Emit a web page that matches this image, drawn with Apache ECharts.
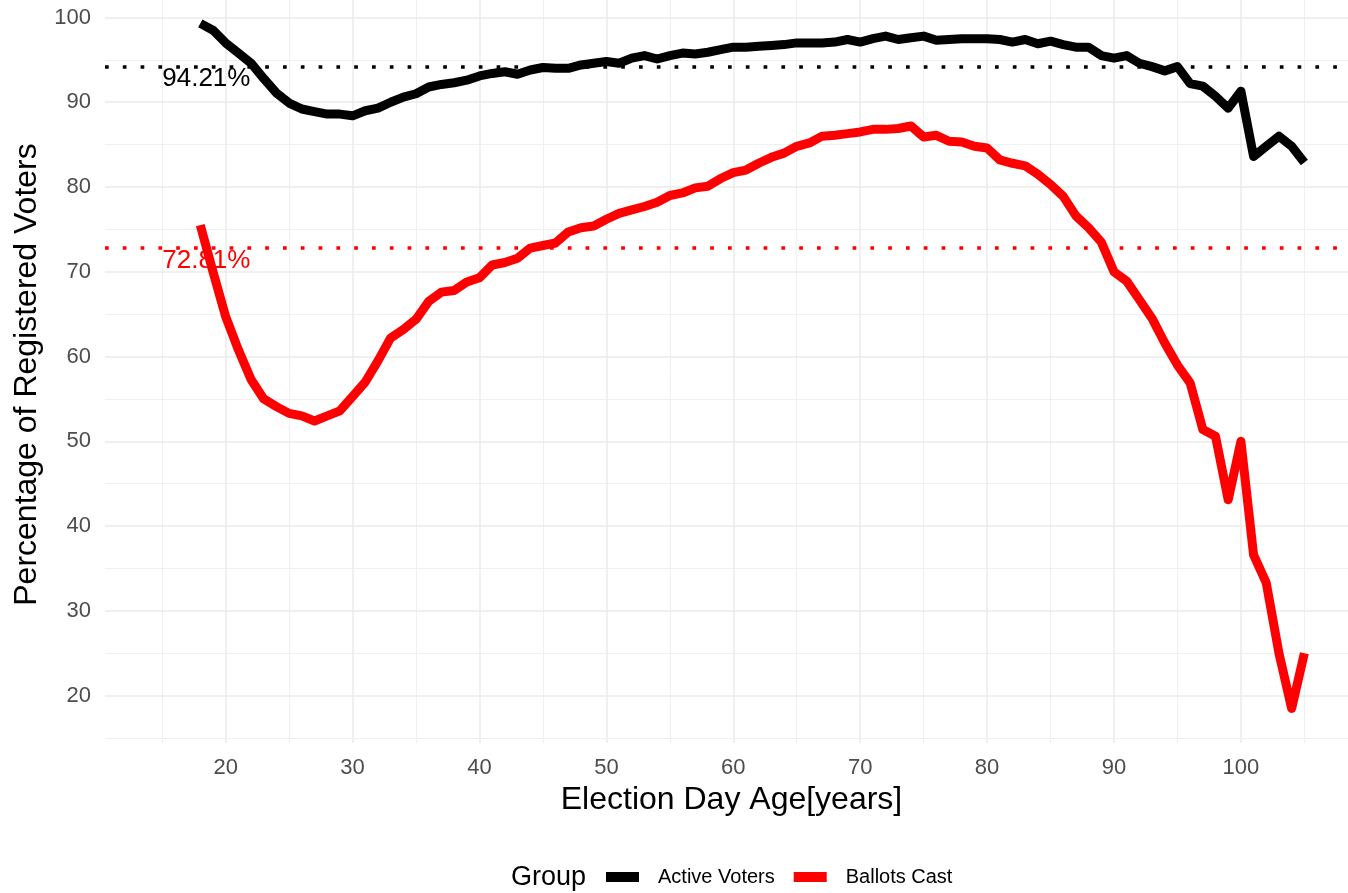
<!DOCTYPE html>
<html>
<head>
<meta charset="utf-8">
<script src="https://cdn.jsdelivr.net/npm/echarts@6/dist/echarts.min.js"></script>
<style>
  html, body { margin: 0; padding: 0; background: #fff; }
  #main { width: 1348px; height: 893px; }
</style>
</head>
<body>
<div id="main"></div>
<script>
  // ages on the x axis
  var ages = [18, 19, 20, 21, 22, 23, 24, 25, 26, 27, 28, 29, 30, 31, 32, 33, 34, 35, 36, 37, 38, 39,
    40, 41, 42, 43, 44, 45, 46, 47, 48, 49, 50, 51, 52, 53, 54, 55, 56, 57, 58, 59,
    60, 61, 62, 63, 64, 65, 66, 67, 68, 69, 70, 71, 72, 73, 74, 75, 76, 77, 78, 79,
    80, 81, 82, 83, 84, 85, 86, 87, 88, 89, 90, 91, 92, 93, 94, 95, 96, 97, 98, 99,
    100, 101, 102, 103, 104, 105];

  var activeVoters = [99.3, 98.5, 97.0, 95.8, 94.6, 92.8, 91.1, 89.9, 89.2, 88.9, 88.6, 88.6, 88.4, 89.0, 89.3, 90.0, 90.6, 91.0, 91.8, 92.1, 92.3, 92.6,
    93.1, 93.4, 93.6, 93.3, 93.8, 94.1, 94.0, 94.0, 94.4, 94.6, 94.8, 94.6, 95.2, 95.5, 95.1, 95.5, 95.8, 95.7, 95.9, 96.2,
    96.5, 96.5, 96.6, 96.7, 96.8, 97.0, 97.0, 97.0, 97.1, 97.4, 97.1, 97.5, 97.8, 97.4, 97.6, 97.8, 97.3, 97.4, 97.5, 97.5,
    97.5, 97.4, 97.1, 97.4, 96.9, 97.2, 96.8, 96.5, 96.5, 95.5, 95.2, 95.5, 94.6, 94.2, 93.7, 94.2, 92.2, 91.9, 90.7, 89.3,
    91.3, 83.6, 84.8, 86.0, 84.8, 82.9];

  var ballotsCast = [75.5, 70.0, 64.7, 60.8, 57.3, 55.0, 54.1, 53.3, 53.0, 52.4, 53.0, 53.6, 55.3, 57.0, 59.5, 62.2, 63.2, 64.4, 66.5, 67.6, 67.8, 68.8,
    69.3, 70.8, 71.1, 71.6, 72.8, 73.1, 73.4, 74.7, 75.2, 75.4, 76.2, 76.9, 77.3, 77.7, 78.2, 79.0, 79.3, 79.9, 80.1, 81.0,
    81.7, 82.0, 82.8, 83.5, 84.0, 84.8, 85.2, 86.0, 86.1, 86.3, 86.5, 86.8, 86.8, 86.9, 87.2, 85.9, 86.1, 85.4, 85.3, 84.8,
    84.6, 83.2, 82.8, 82.5, 81.5, 80.3, 78.9, 76.6, 75.2, 73.5, 70.0, 68.9, 66.7, 64.5, 61.6, 59.0, 56.9, 51.4, 50.6, 43.1,
    50.0, 36.6, 33.3, 25.0, 18.5, 25.0];

  var avgActive = 94.21;
  var avgBallots = 72.81;
  var labelAge = 15;

  var xBreaks = [20, 30, 40, 50, 60, 70, 80, 90, 100];
  var xMinor = [15, 25, 35, 45, 55, 65, 75, 85, 95, 105];
  var yBreaks = [20, 30, 40, 50, 60, 70, 80, 90, 100];
  var yMinor = [15, 25, 35, 45, 55, 65, 75, 85, 95];

  var font = "'Liberation Sans', Arial, sans-serif";

  var myChart = echarts.init(document.getElementById('main'));

  function pairs(vals) {
    return ages.map(function (a, i) { return [a, vals[i]]; });
  }

  // grid lines like theme_minimal
  var minorStyle = { color: '#f0f0f0', width: 1, type: 'solid' };
  var majorStyle = { color: '#ebebeb', width: 1.5, type: 'solid' };
  var gridLines = [];
  xMinor.forEach(function (v) { gridLines.push({ xAxis: v, lineStyle: minorStyle }); });
  yMinor.forEach(function (v) { gridLines.push({ yAxis: v, lineStyle: minorStyle }); });
  xBreaks.forEach(function (v) { gridLines.push({ xAxis: v, lineStyle: majorStyle }); });
  yBreaks.forEach(function (v) { gridLines.push({ yAxis: v, lineStyle: majorStyle }); });

  function refLine(value, color) {
    return {
      type: 'line',
      data: [],
      silent: true,
      z: 3,
      markLine: {
        silent: true,
        symbol: 'none',
        animation: false,
        label: { show: false },
        lineStyle: { color: color, width: 3.7, type: [3.7, 14.1], cap: 'butt' },
        data: [{ yAxis: value }]
      },
      markPoint: {
        silent: true,
        symbolSize: 0,
        animation: false,
        label: {
          show: true,
          position: 'right',
          distance: 0,
          offset: [0, 12.5],
          formatter: value.toFixed(2) + '%',
          color: color,
          fontSize: 26,
          fontFamily: font
        },
        data: [{ coord: [labelAge, value] }]
      }
    };
  }

  var option = {
    animation: false,
    backgroundColor: '#ffffff',
    title: {
      text: 'Group',
      left: 506,
      top: 859,
      textStyle: { fontSize: 27, fontWeight: 'normal', color: '#000', fontFamily: font }
    },
    legend: {
      left: 601,
      top: 862,
      icon: 'rect',
      itemWidth: 33,
      itemHeight: 10,
      itemGap: 19,
      data: ['Active Voters', 'Ballots Cast'],
      textStyle: { fontSize: 20, color: '#000', fontFamily: font, padding: [0, 0, 0, 14] }
    },
    grid: { left: 105, right: 0, top: 0, bottom: 150, containLabel: false },
    xAxis: {
      type: 'value',
      min: 10.49,
      max: 108.44,
      name: 'Election Day Age[years]',
      nameLocation: 'middle',
      nameGap: 41,
      nameTextStyle: { fontSize: 32, color: '#000', fontFamily: font, padding: [0, 0, 0, 10] },
      axisLine: { show: false },
      axisTick: { show: false },
      splitLine: { show: false },
      axisLabel: {
        customValues: xBreaks,
        margin: 14,
        fontSize: 22,
        color: '#4d4d4d',
        fontFamily: font
      }
    },
    yAxis: {
      type: 'value',
      min: 14.42,
      max: 102.06,
      name: 'Percentage of Registered Voters',
      nameLocation: 'middle',
      nameRotate: 90,
      nameGap: 59,
      nameTextStyle: { fontSize: 32, color: '#000', fontFamily: font, padding: [0, 6, 0, 0] },
      axisLine: { show: false },
      axisTick: { show: false },
      splitLine: { show: false },
      axisLabel: {
        customValues: yBreaks,
        margin: 14,
        fontSize: 22,
        color: '#4d4d4d',
        fontFamily: font,
        padding: [6, 0, 0, 0]
      }
    },
    series: [
      {
        type: 'line',
        data: [],
        silent: true,
        z: 1,
        markLine: {
          silent: true,
          symbol: 'none',
          animation: false,
          label: { show: false },
          data: gridLines
        }
      },
      refLine(avgActive, '#000000'),
      refLine(avgBallots, '#ff0000'),
      {
        name: 'Active Voters',
        type: 'line',
        z: 5,
        color: '#000000',
        showSymbol: false,
        data: pairs(activeVoters),
        lineStyle: { width: 9, color: '#000000', join: 'round' }
      },
      {
        name: 'Ballots Cast',
        type: 'line',
        z: 5,
        color: '#ff0000',
        showSymbol: false,
        data: pairs(ballotsCast),
        lineStyle: { width: 9, color: '#ff0000', join: 'round' }
      }
    ]
  };

  myChart.setOption(option);
</script>
</body>
</html>
